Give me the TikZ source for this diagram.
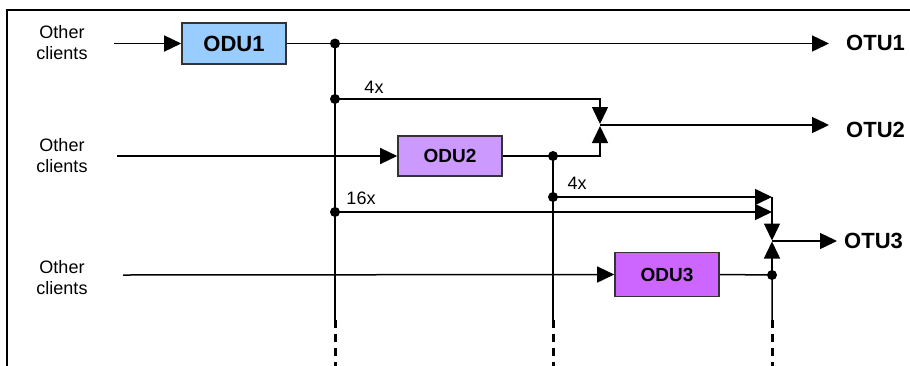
\documentclass[tikz,border=0pt]{standalone}
\usepackage{fontspec}
\setmainfont{Liberation Sans}
\usetikzlibrary{arrows.meta}
\definecolor{oduA}{HTML}{99CCFF}
\definecolor{oduB}{HTML}{CC99FF}
\definecolor{oduC}{HTML}{CC66FF}
\definecolor{boxline}{HTML}{333333}
\begin{document}
\begin{tikzpicture}[x=1pt,y=-1pt,
  wire/.style={line width=1.5pt,draw=black},
  arr/.style={wire,-{Triangle[length=17pt,width=16pt]}},
  dot/.style={circle,fill=black,inner sep=0pt,minimum size=10pt},
  dashpart/.style={line width=3pt,dash pattern=on 8pt off 6pt},
  odubox/.style={draw=boxline,line width=1.6pt,minimum width=104pt,inner sep=0pt,font=\bfseries\fontsize{19}{21}\selectfont},
  lbl/.style={font=\fontsize{18}{21}\selectfont,align=center,inner sep=0pt},
  otu/.style={font=\bfseries\fontsize{22}{24}\selectfont,anchor=west,inner sep=0pt}]
\useasboundingbox (0,0) rectangle (910,365);
\draw[line width=2.4pt] (7,366) -- (7,10) -- (911,10);

% nodes
\node[odubox,fill=oduA,minimum height=41pt,font=\bfseries\fontsize{22}{24}\selectfont] (odu1) at (234,43.5) {ODU1};
\node[odubox,fill=oduB,minimum height=40pt] (odu2) at (450,156) {ODU2};
\node[odubox,fill=oduC,minimum height=44pt] (odu3) at (667,274.5) {ODU3};

\node[lbl] (oc1) at (62,43) {Other\\clients};
\node[lbl] (oc2) at (62,156) {Other\\clients};
\node[lbl] (oc3) at (62,278) {Other\\clients};

\node[otu] (otu1) at (846,43) {OTU1};
\node[otu] (otu2) at (846,130) {OTU2};
\node[otu] (otu3) at (844,241) {OTU3};

\node[lbl] (l4a) at (374,87) {4x};
\node[lbl] (l4b) at (577,183) {4x};
\node[lbl] (l16) at (361,198) {16x};

% coordinates
\coordinate (in1) at (114,43.5);
\coordinate (in2) at (117,156);
\coordinate (in3) at (123,275);
\coordinate (j1) at (335,43.5);
\coordinate (j2) at (335,99);
\coordinate (j3) at (335,212);
\coordinate (j4) at (553,156);
\coordinate (j5) at (553,197);
\coordinate (j6) at (772,275);
\coordinate (t1) at (829,43.5);
\coordinate (c2a) at (600,99);
\coordinate (c2b) at (600,156);
\coordinate (m2d) at (600,124);
\coordinate (m2u) at (600,126);
\coordinate (m2) at (600,125);
\coordinate (t2) at (829,125);
\coordinate (t5) at (772,197);
\coordinate (t3) at (772,212);
\coordinate (m3d) at (772,240.5);
\coordinate (m3u) at (772,241.5);
\coordinate (m3) at (772,241);
\coordinate (t6) at (837,241);
\coordinate (v1) at (335,320);
\coordinate (v2) at (553,320);
\coordinate (v3) at (772,320);
\coordinate (b1) at (335,366);
\coordinate (b2) at (553,366);
\coordinate (b3) at (772,366);

% connectors
\draw[arr] (in1) -- (odu1.west);
\draw[arr] (odu1.east) -- (j1) -- (t1);
\draw[wire] (j1) -- (v1);
\draw[dashpart] (v1) -- (b1);
\draw[arr] (j2) -- (c2a) -- (m2d);
\draw[arr] (in2) -- (odu2.west);
\draw[arr] (odu2.east) -- (j4) -- (c2b) -- (m2u);
\draw[arr] (m2) -- (t2);
\draw[wire] (j4) -- (v2);
\draw[dashpart] (v2) -- (b2);
\draw[arr] (j5) -- (t5);
\draw[arr] (j3) -- (t3);
\draw[arr] (t5) -- (m3d);
\draw[arr] (j6) -- (m3u);
\draw[arr] (m3) -- (t6);
\draw[arr] (in3) -- (odu3.west);
\draw[wire] (odu3.east) -- (j6) -- (v3);
\draw[dashpart] (v3) -- (b3);

\foreach \p in {j1,j2,j3,j4,j5,j6} \node[dot] at (\p) {};
\end{tikzpicture}
\end{document}
